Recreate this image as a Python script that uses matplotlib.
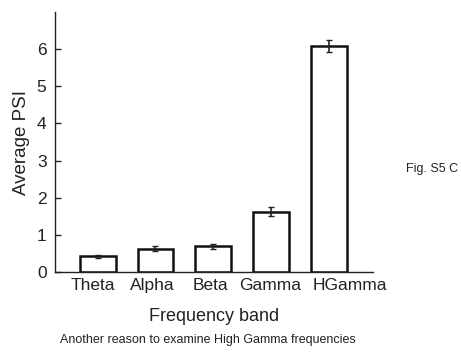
import matplotlib
matplotlib.use("Agg")
import matplotlib.pyplot as plt
from matplotlib.transforms import ScaledTranslation

bands = ["Theta", "Alpha", "Beta", "Gamma", "HGamma"]
psi = [0.42, 0.63, 0.69, 1.62, 6.08]
err = [0.04, 0.06, 0.07, 0.12, 0.17]
yticks = [0, 1, 2, 3, 4, 5, 6]
label_shift_px = [-5, -3, -3, -1, 21]

plt.rcParams['font.family'] = ['Liberation Sans', 'DejaVu Sans']

fig = plt.figure(figsize=(4.61, 3.52), dpi=100)
ax = fig.add_axes([0.119, 0.227, 0.690, 0.739])
x = list(range(1, len(bands) + 1))
ax.bar(x, psi, width=0.62, color="white", edgecolor="#111111", linewidth=1.8,
       yerr=err, error_kw=dict(ecolor="#222222", elinewidth=1.2, capsize=2, capthick=1.0))
ax.set_xlim(0.26, 5.76)
ax.set_ylim(0, 7)
ax.set_yticks(yticks)
ax.set_xticks(x)
ax.set_xticklabels(bands)
for s in ["top", "right"]:
    ax.spines[s].set_visible(False)
for s in ["left", "bottom"]:
    ax.spines[s].set_linewidth(1.0)
    ax.spines[s].set_color("#222222")
ax.tick_params(axis="y", direction="in", length=4, width=1, labelsize=12.5, pad=6, colors="#222222")
ax.tick_params(axis="x", length=0, labelsize=12.5, pad=4, colors="#222222")
for lab, dx in zip(ax.get_xticklabels(), label_shift_px):
    lab.set_transform(lab.get_transform() + ScaledTranslation(dx / 100, 0, fig.dpi_scale_trans))
ax.set_ylabel("Average PSI", fontsize=13.5, color="#222222", labelpad=5)
ax.set_xlabel("Frequency band", fontsize=13, color="#222222", labelpad=11)
fig.text(0.881, 0.52, "Fig. S5 C", fontsize=9, color="#222222", ha="left", va="center")
fig.text(0.45, 0.034, "Another reason to examine High Gamma frequencies", fontsize=9,
         color="#222222", ha="center", va="center")
fig.savefig("out.png", dpi=100)
